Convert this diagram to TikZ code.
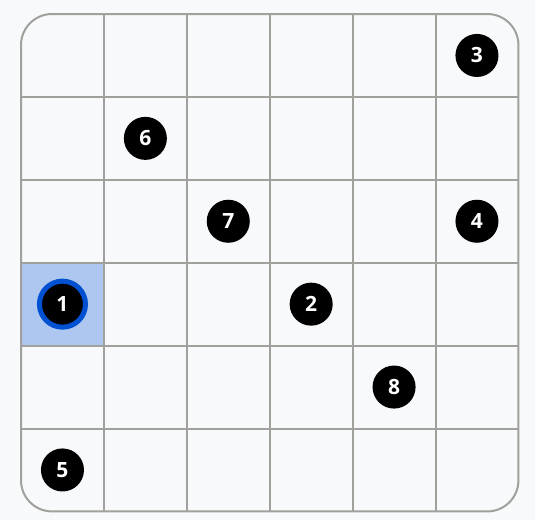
\documentclass[tikz,border=0pt]{standalone}
\usepackage{fontspec}
\setmainfont{Open Sans}
\usepackage{tikz}
\usetikzlibrary{positioning}
\definecolor{pagebg}{HTML}{F8F9FB}
\definecolor{gridgray}{HTML}{A0A09C}
\definecolor{pickfill}{HTML}{AEC7F0}
\definecolor{pickring}{HTML}{0050D2}
\tikzset{
    badge/.style = {circle, fill=black, text=white, font=\bfseries\fontsize{21}{21}\selectfont, minimum size=43pt, inner sep=0pt},
    pickedbadge/.style = {badge, draw=pickring, line width=5pt, minimum size=46pt},
    gridline/.style = {draw=gridgray, line width=2pt}
}

\begin{document}
\begin{tikzpicture}[x=82.83pt, y=-82.83pt]
    % Page
    \fill[pagebg] (-0.2535,-0.169) rectangle (6.2,6.1085);
    \useasboundingbox (-0.2535,-0.169) rectangle (6.2,6.1085);

    % Board
    \fill[pickfill] (0,3) rectangle (1,4);
    \foreach \i in {1,...,5} {
        \draw[gridline] (\i,0) -- (\i,6);
        \draw[gridline] (0,\i) -- (6,\i);
    }
    \draw[gridline, rounded corners=31pt] (0,0) rectangle (6,6);

    % Pieces
    \node [pickedbadge] (p1) at (0.5,3.5) {1};
    \node [badge] (p2) at (3.5,3.5) {2};
    \node [badge] (p3) at (5.5,0.5) {3};
    \node [badge] (p4) at (5.5,2.5) {4};
    \node [badge] (p5) at (0.5,5.5) {5};
    \node [badge] (p6) at (1.5,1.5) {6};
    \node [badge] (p7) at (2.5,2.5) {7};
    \node [badge] (p8) at (4.5,4.5) {8};
\end{tikzpicture}
\end{document}
